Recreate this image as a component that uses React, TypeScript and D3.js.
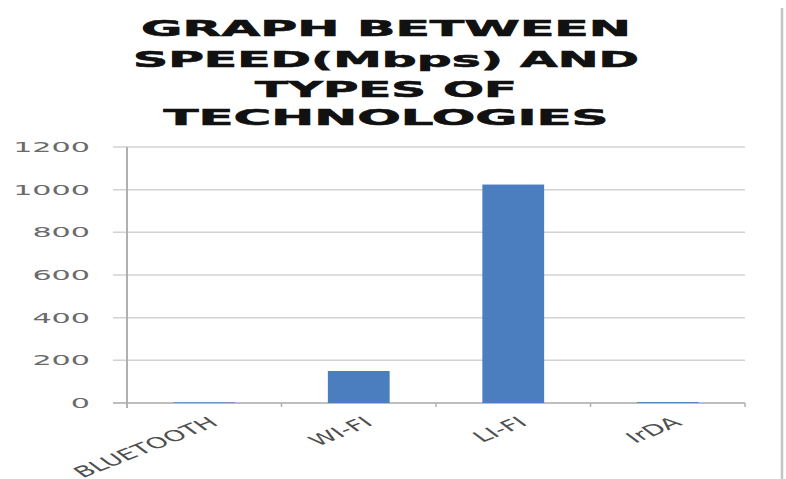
import React from "react";
import * as d3 from "d3";

const categories = ["BLUETOOTH", "WI-FI", "LI-FI", "IrDA"];
const speeds = [3, 150, 1024, 4];
const yTicks = [0, 200, 400, 600, 800, 1000, 1200];
const titleLines = ["GRAPH BETWEEN", "SPEED(Mbps) AND", "TYPES OF", "TECHNOLOGIES"];
const titleWidths = [490, 506, 262, 445];

const W = 786;
const H = 479;
const left = 127;
const right = 745;
const top = 147;
const bottom = 403;

export default function App() {
  const x = d3
    .scaleBand<string>()
    .domain(categories)
    .range([left, right])
    .paddingInner(0.6)
    .paddingOuter(0.3);
  const y = d3.scaleLinear().domain([0, 1200]).range([bottom, top]);
  const step = x.step();
  const boundaries = categories.map((c) => (x(c) as number) - (step * 0.6) / 2);
  boundaries.push(right);
  const titleYs = [36, 67, 97, 125];
  const font = "'DejaVu Sans', Verdana, sans-serif";

  return (
    <svg
      width={W}
      height={H}
      style={{ position: "absolute", left: 0, top: 0, background: "#fff" }}
      fontFamily={font}
    >
      <rect x={0} y={0} width={W} height={H} fill="#fff" />
      {/* right border */}
      <line x1={782} x2={782} y1={8} y2={H} stroke="#c4c4c4" strokeWidth={2.5} />
      {/* title */}
      {titleLines.map((t, i) => (
        <text
          key={t}
          x={386}
          y={titleYs[i]}
          textAnchor="middle"
          fontSize={21}
          fontWeight="bold"
          fill="#111"
          stroke="#111"
          strokeWidth={0.6}
          textLength={titleWidths[i]}
          lengthAdjust="spacingAndGlyphs"
        >
          {t}
        </text>
      ))}
      {/* gridlines */}
      {yTicks.map((t) => (
        <line
          key={"g" + t}
          x1={113}
          x2={right}
          y1={y(t)}
          y2={y(t)}
          stroke={t === 0 ? "#a8a8a8" : "#d2d2d2"}
          strokeWidth={1.5}
        />
      ))}
      {/* y tick labels */}
      {yTicks.map((t) => {
        const s = String(t);
        return (
          <text
            key={"l" + t}
            x={90}
            y={y(t) + 5}
            textAnchor="end"
            fontSize={14}
            fill="#6a6a6a"
            textLength={s.length * 19.2}
            lengthAdjust="spacingAndGlyphs"
          >
            {s}
          </text>
        );
      })}
      {/* y axis */}
      <line x1={left} x2={left} y1={top} y2={bottom + 5} stroke="#b0b0b0" strokeWidth={2} />
      {/* x ticks */}
      {boundaries.map((b, i) => (
        <line key={"t" + i} x1={b} x2={b} y1={bottom} y2={bottom + 4} stroke="#b0b0b0" strokeWidth={1.5} />
      ))}
      {/* bars */}
      {categories.map((c, i) => (
        <rect
          key={c}
          x={x(c)}
          y={y(speeds[i])}
          width={x.bandwidth()}
          height={bottom - y(speeds[i])}
          fill="#4A7EBF"
        />
      ))}
      {/* x labels */}
      {categories.map((c) => {
        const cx = (x(c) as number) + x.bandwidth() / 2 + 4;
        return (
          <g key={"x" + c} transform={`translate(${cx},${416}) scale(1.85,1) rotate(-36)`}>
            <text x={0} y={0} textAnchor="end" fontSize={15} fill="#505050" dy="0.7em">
              {c}
            </text>
          </g>
        );
      })}
    </svg>
  );
}
